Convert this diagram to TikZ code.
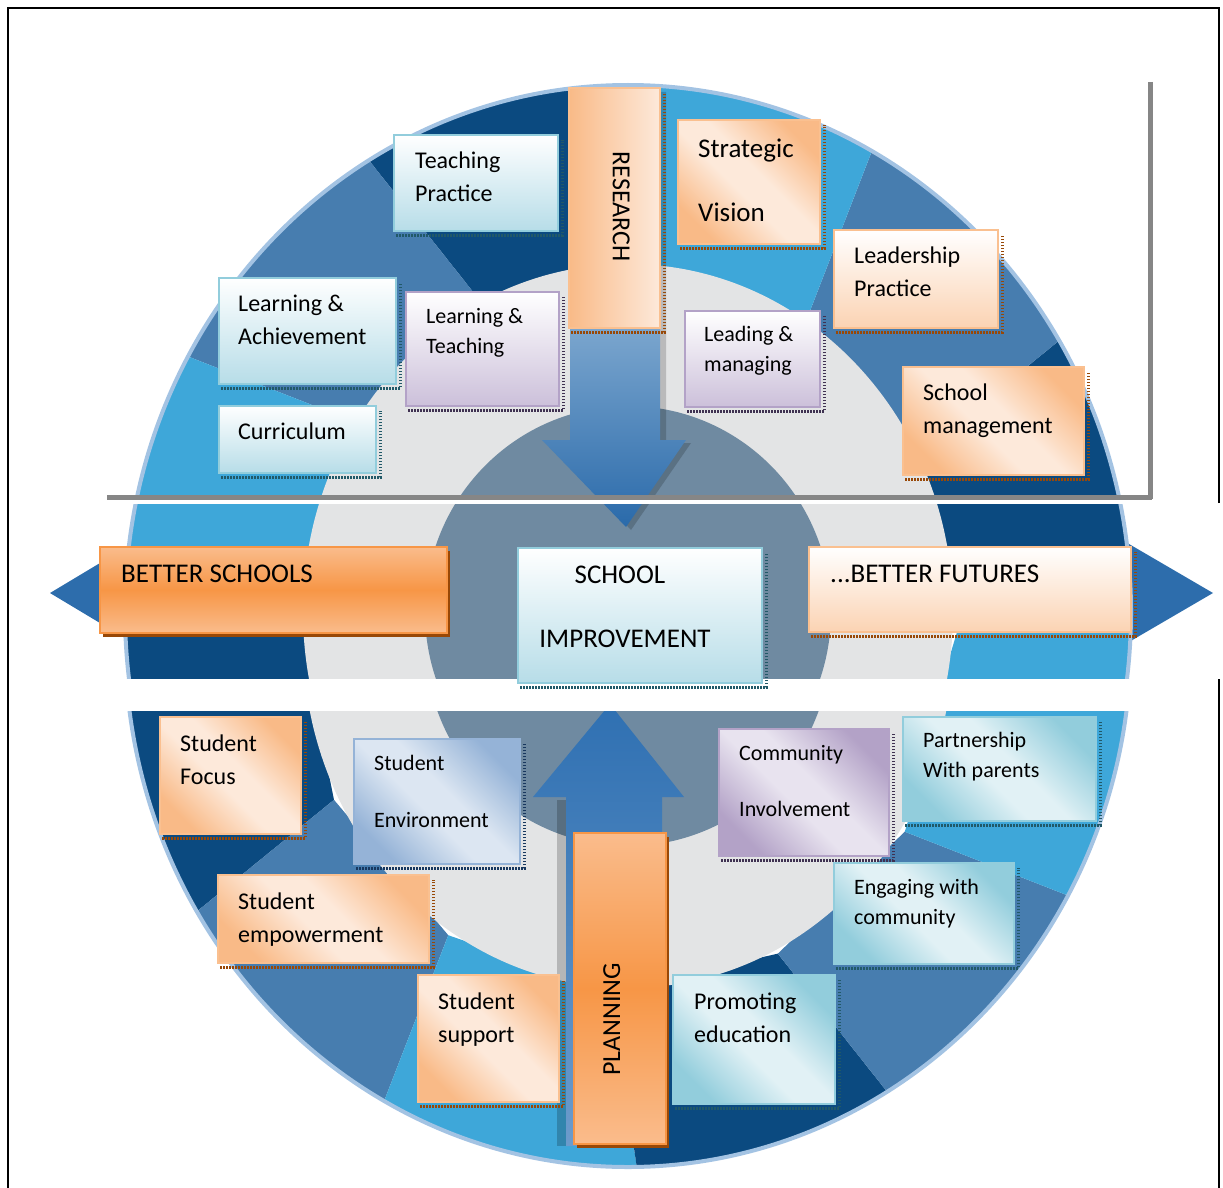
\documentclass[tikz,border=0pt]{standalone}
\usepackage{fontspec}
\setmainfont{Carlito}
\usetikzlibrary{calc,positioning,shadows}

% wheel and arrows
\definecolor{navyC}{HTML}{0B4A80}
\definecolor{midC}{HTML}{477DAF}
\definecolor{lightC}{HTML}{3EA7D9}
\definecolor{rimC}{HTML}{A3C3E3}
\definecolor{grayC}{HTML}{E3E4E5}
\definecolor{slateC}{HTML}{6F8AA1}
\definecolor{sideC}{HTML}{2D6DAC}
\definecolor{arrowTop}{HTML}{86AED3}
\definecolor{arrowBot}{HTML}{2A6AAA}
\definecolor{upTop}{HTML}{2F70B2}
\definecolor{upBot}{HTML}{6C9BCB}
% tiles
\definecolor{blueEdge}{HTML}{92CDDC}
\definecolor{blueFill}{HTML}{B7DDE8}
\definecolor{blueLight}{HTML}{E1F1F5}
\definecolor{blueDot}{HTML}{215968}
\definecolor{peachEdge}{HTML}{FAC090}
\definecolor{peachDeep}{HTML}{F9BA87}
\definecolor{peachLight}{HTML}{FDE9DA}
\definecolor{peachSoft}{HTML}{FBD3B3}
\definecolor{peachDot}{HTML}{984807}
\definecolor{lilacEdge}{HTML}{B3A2C7}
\definecolor{lilacFill}{HTML}{CCC0DA}
\definecolor{lilacLight}{HTML}{E8E3EF}
\definecolor{lilacDot}{HTML}{3F3151}
\definecolor{steelEdge}{HTML}{95B3D7}
\definecolor{steelLight}{HTML}{DCE6F2}
\definecolor{steelDot}{HTML}{17375E}
\definecolor{orangeC}{HTML}{F79646}
\definecolor{orangeL}{HTML}{FABC8C}
\definecolor{brownC}{HTML}{984807}

% corner-to-corner fades for the lower tiles
\pgfdeclarehorizontalshading{peachdiag}{100bp}{color(0bp)=(peachDeep); color(25bp)=(peachDeep); color(45bp)=(peachLight); color(55bp)=(peachLight); color(75bp)=(peachDeep); color(100bp)=(peachDeep)}
\pgfdeclarehorizontalshading{tealdiag}{100bp}{color(0bp)=(blueEdge); color(25bp)=(blueEdge); color(45bp)=(blueLight); color(55bp)=(blueLight); color(75bp)=(blueEdge); color(100bp)=(blueEdge)}
\pgfdeclarehorizontalshading{lilacdiag}{100bp}{color(0bp)=(lilacEdge); color(25bp)=(lilacEdge); color(45bp)=(lilacLight); color(55bp)=(lilacLight); color(75bp)=(lilacEdge); color(100bp)=(lilacEdge)}
\pgfdeclarehorizontalshading{steeldiag}{100bp}{color(0bp)=(steelEdge); color(25bp)=(steelEdge); color(45bp)=(steelLight); color(55bp)=(steelLight); color(75bp)=(steelEdge); color(100bp)=(steelEdge)}

\tikzset{
  tile/.style={anchor=north west, inner sep=0pt, line width=1.6pt},
  bluetile/.style={tile, draw=blueEdge, top color=white, bottom color=blueFill},
  tealtile/.style={tile, draw=blueEdge, shading=tealdiag, shading angle=45},
  lilactile/.style={tile, draw=lilacEdge, top color=white, bottom color=lilacFill},
  lilacdiagtile/.style={tile, draw=lilacEdge, shading=lilacdiag, shading angle=45},
  peachtile/.style={tile, draw=peachEdge, shading=peachdiag, shading angle=45},
  steeltile/.style={tile, draw=steelEdge, shading=steeldiag, shading angle=45},
  bartile/.style={tile, draw=orangeC, top color=orangeL, bottom color=orangeL, middle color=orangeC,
    drop shadow={fill=brownC, opacity=1, shadow xshift=3pt, shadow yshift=-4pt}},
  dotshade/.style={line width=3pt, dash pattern=on 1.5pt off 1.5pt},
  tiletext/.style={anchor=north west, inner sep=0pt, align=left, font=\fontsize{24}{33}\selectfont},
  smalltext/.style={tiletext, font=\fontsize{22}{30}\selectfont},
  bigtext/.style={tiletext, font=\fontsize{27}{33}\selectfont},
}

\begin{document}
\begin{tikzpicture}[x=1pt,y=-1pt]
  \useasboundingbox (0,0) rectangle (1223,1188);

  % the wheel, cut into three strips (the lowest strip sits lower)
  \foreach \ya/\yb/\cy in {0/497/612, 504/678/612, 711/1188/640}{
    \begin{scope}
      \clip (0,\ya) rectangle (1223,\yb);
      % side arrow heads
      \fill[sideC] (155,530) -- (50,593) -- (155,656) -- cycle;
      \fill[sideC] (1105,530) -- (1213,593) -- (1105,656) -- cycle;
      \begin{scope}[shift={(628,\cy)}]
        \foreach \a/\col in {1/navyC,31/midC,61/lightC,91/navyC,121/midC,151/lightC,
                             181/navyC,211/midC,241/lightC,271/navyC,301/midC,331/lightC}
          \fill[\col] ({\a-4}:330pt and 352pt) -- (\a:503pt and 527pt)
            arc[start angle=\a, end angle=\a+30, x radius=503pt, y radius=527pt]
            -- ({\a+26}:330pt and 352pt) -- cycle;
        \draw[rimC, line width=4pt] (0,0) ellipse [x radius=503pt, y radius=527pt];
        \fill[grayC] (0,0) ellipse [x radius=325pt, y radius=348pt];
        \fill[slateC] (0,0) ellipse [x radius=203pt, y radius=206pt];
      \end{scope}
      % arrow down from research
      \fill[black, opacity=.18] (578,92) -- (666,92) -- (666,443) -- (691,443) -- (631,530) -- (550,443) -- (578,443) -- cycle;
      \shade[top color=arrowTop, bottom color=arrowBot] (570,300) -- (660,300) -- (660,440) -- (686,440)
        -- (626,527) -- (542,440) -- (570,440) -- cycle;
      % arrow up from planning
      \fill[black, opacity=.2] (557,800) -- (566,800) -- (566,1146) -- (557,1146) -- cycle;
      \shade[top color=upTop, bottom color=upBot] (610,704) -- (684,797) -- (662,797) -- (662,1146)
        -- (566,1146) -- (566,797) -- (533,797) -- cycle;
    \end{scope}
  }

  % cut lines and frame
  \draw[gray!95, line width=5pt] (107,497) -- (1152,497);
  \draw[gray!95, line width=5pt] (1150,82) -- (1150,499);
  \draw[line width=2.5pt] (1219,503) -- (1219,8) -- (8,8) -- (8,1188);
  \draw[line width=2.5pt] (1219,679) -- (1219,1188);

  % upper left
  \node[bluetile, minimum width=164, minimum height=96] (teach) at (393,134) {};
  \node[bluetile, minimum width=177, minimum height=106] (achieve) at (218,277) {};
  \node[bluetile, minimum width=157, minimum height=67] (curric) at (218,405) {};
  \node[lilactile, minimum width=153, minimum height=114] (learnteach) at (405,291) {};
  % upper right
  \node[tile, draw=peachEdge, left color=peachDeep, right color=peachLight, minimum width=91, minimum height=240] (research) at (568,87) {};
  \node[peachtile, minimum width=142, minimum height=124] (strategic) at (677,119) {};
  \node[tile, draw=peachEdge, top color=white, bottom color=peachSoft, minimum width=164, minimum height=98] (leadership) at (833,229) {};
  \node[lilactile, minimum width=135, minimum height=96] (leading) at (684,310) {};
  \node[peachtile, minimum width=181, minimum height=108] (schoolmgmt) at (902,366) {};
  % middle row
  \node[bartile, minimum width=347, minimum height=86] (bschools) at (99,546) {};
  \node[bluetile, minimum width=244, minimum height=135] (improve) at (517,547) {};
  \node[tile, draw=peachEdge, top color=white, bottom color=peachSoft, minimum width=322, minimum height=85] (bfutures) at (808,546) {};
  % lower left
  \node[peachtile, minimum width=141, minimum height=117] (sfocus) at (159,716) {};
  \node[steeltile, minimum width=166, minimum height=125] (senv) at (353,738) {};
  \node[peachtile, minimum width=211, minimum height=88] (sempower) at (217,874) {};
  \node[peachtile, minimum width=141, minimum height=127] (ssupport) at (417,974) {};
  \node[bartile, minimum width=92, minimum height=311] (planning) at (573,832) {};
  % lower right
  \node[lilacdiagtile, minimum width=170, minimum height=127] (community) at (718,728) {};
  \node[tealtile, minimum width=193, minimum height=104] (partner) at (902,716) {};
  \node[tealtile, minimum width=180, minimum height=101] (engaging) at (833,862) {};
  \node[tealtile, minimum width=162, minimum height=129] (promoting) at (672,974) {};

  % dotted shadows under the tiles
  \foreach \n/\col in {teach/blueDot, achieve/blueDot, curric/blueDot, learnteach/lilacDot,
                      research/peachDot, strategic/peachDot, leadership/peachDot, leading/lilacDot,
                      schoolmgmt/peachDot, improve/blueDot, bfutures/peachDot, sfocus/peachDot,
                      senv/steelDot, sempower/peachDot, ssupport/peachDot, community/lilacDot,
                      partner/blueDot, engaging/blueDot, promoting/blueDot}
    \draw[dotshade, \col] ([shift={(3pt,-3.5pt)}]\n.south west) -| ([shift={(3.5pt,-6pt)}]\n.north east);

  % texts
  \node[tiletext] (teachtxt) at ($(teach.north west)+(22,18)$) {Teaching\\Practice};
  \node[tiletext] (achievetxt) at ($(achieve.north west)+(20,18)$) {Learning \&\\Achievement};
  \node[tiletext] (currictxt) at ($(curric.north west)+(20,18)$) {Curriculum};
  \node[smalltext] (learnteachtxt) at ($(learnteach.north west)+(21,17)$) {Learning \&\\Teaching};
  \node[rotate=-90, font=\fontsize{26}{30}\selectfont, inner sep=0pt] (researchtxt) at ($(research.center)+(7,-1)$) {RESEARCH};
  \node[bigtext] (strategictxt) at ($(strategic.north west)+(21,20)$) {Strategic\\[31pt]Vision};
  \node[tiletext] (leadershiptxt) at ($(leadership.north west)+(21,18)$) {Leadership\\Practice};
  \node[smalltext] (leadingtxt) at ($(leading.north west)+(20,16)$) {Leading \&\\managing};
  \node[tiletext] (schoolmgmttxt) at ($(schoolmgmt.north west)+(21,18)$) {School\\management};
  \node[bigtext] (bschoolstxt) at ($(bschools.north west)+(22,19)$) {BETTER SCHOOLS};
  \node[font=\fontsize{27}{33}\selectfont, inner sep=0pt] (improvetxtA) at ($(improve.north west)+(103,28)$) {SCHOOL};
  \node[font=\fontsize{27}{33}\selectfont, inner sep=0pt] (improvetxtB) at ($(improve.north west)+(108,92)$) {IMPROVEMENT};
  \node[bigtext] (bfuturestxt) at ($(bfutures.north west)+(22,19)$) {...BETTER FUTURES};
  \node[tiletext] (sfocustxt) at ($(sfocus.north west)+(21,19)$) {Student\\Focus};
  \node[smalltext] (senvtxt) at ($(senv.north west)+(21,17)$) {Student\\[27pt]Environment};
  \node[tiletext] (sempowertxt) at ($(sempower.north west)+(21,19)$) {Student\\empowerment};
  \node[tiletext] (ssupporttxt) at ($(ssupport.north west)+(21,19)$) {Student\\support};
  \node[rotate=90, font=\fontsize{26}{30}\selectfont, inner sep=0pt] (planningtxt) at ($(planning.center)+(-8,31)$) {PLANNING};
  \node[smalltext] (communitytxt) at ($(community.north west)+(21,17)$) {Community\\[26pt]Involvement};
  \node[smalltext] (partnertxt) at ($(partner.north west)+(21,16)$) {Partnership\\With parents};
  \node[smalltext] (engagingtxt) at ($(engaging.north west)+(21,17)$) {Engaging with\\community};
  \node[tiletext] (promotingtxt) at ($(promoting.north west)+(22,19)$) {Promoting\\education};
\end{tikzpicture}
\end{document}
